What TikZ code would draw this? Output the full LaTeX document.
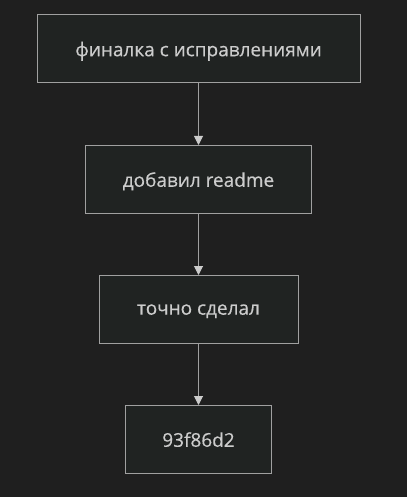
\documentclass[tikz,border=0pt]{standalone}
\usepackage{fontspec}
\setmainfont{Open Sans}[UprightFeatures={FakeBold=0.4}]
\usetikzlibrary{arrows.meta}
\definecolor{bgcol}{HTML}{1F1F1F}
\definecolor{boxfill}{HTML}{202322}
\definecolor{boxline}{HTML}{A0A0A0}
\definecolor{txtcol}{HTML}{CCCCCC}

\tikzset{ commit/.style={draw=boxline, fill=boxfill, line width=1pt, text=txtcol,
    font=\fontsize{19}{22}\selectfont, minimum height=68pt, inner xsep=0pt,
    text depth=0pt} }

\begin{document}
\begin{tikzpicture}[x=1pt, y=-1pt,
    every edge/.style={draw=boxline, line width=1pt, -{Triangle[width=9pt,length=9pt,color=txtcol]}}]
        \fill[bgcol] (0,0) rectangle (407,497);
        \useasboundingbox (0,0) rectangle (407,497);

        \node[commit, minimum width=323pt] (fin) at (198.5,49) {финалка с исправлениями};
        \node[commit, minimum width=226pt] (readme) at (198.5,179.5) {добавил readme};
        \node[commit, minimum width=199pt] (done) at (198.5,309.5) {точно сделал};
        \node[commit, minimum width=146pt] (hash) at (198.5,439.5) {93f86d2};

        \path (fin) edge (readme)
              (readme) edge (done)
              (done) edge (hash);
    \end{tikzpicture}
\end{document}
